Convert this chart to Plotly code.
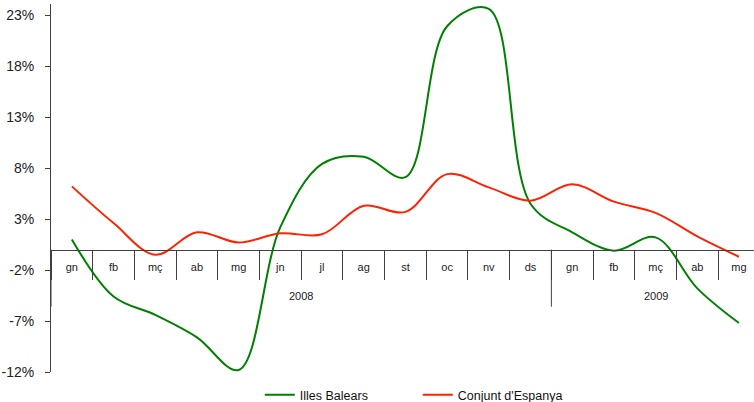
import plotly.graph_objects as go

months = ["gn", "fb", "mç", "ab", "mg", "jn", "jl", "ag", "st", "oc", "nv", "ds",
          "gn", "fb", "mç", "ab", "mg"]
years = ["2008"] * 12 + ["2009"] * 5
balears = [1.0, -4.6, -6.4, -8.6, -11.8, 2.2, 8.4, 9.1, 7.1, 21.9, 23.6, 4.5,
           1.7, -0.1, 1.2, -3.8, -7.2]
espanya = [6.2, 2.6, -0.5, 1.7, 0.7, 1.6, 1.5, 4.3, 3.7, 7.4, 6.1, 4.8,
           6.4, 4.7, 3.6, 1.3, -0.7]
ytick_vals = [-12, -7, -2, 3, 8, 13, 18, 23]
ytick_text = [f"{v}%" for v in ytick_vals]

W, H = 754, 402
ML, MR, MT, MB = 51, 0, 4, 30
YMIN, YMAX = -12, 24.08
H_PLOT = H - MT - MB
PX = (YMAX - YMIN) / H_PLOT  # value units per pixel

idx = list(range(len(months)))
boundaries = [i - 0.5 for i in range(len(months) + 1)]

year_groups = []
for i, y in enumerate(years):
    if not year_groups or year_groups[-1][0] != y:
        year_groups.append([y, i, i])
    else:
        year_groups[-1][2] = i

fig = go.Figure()
fig.add_trace(go.Scatter(x=idx, y=balears, mode="lines", name="Illes Balears",
                         line=dict(color="#008000", width=2, shape="spline", smoothing=1)))
fig.add_trace(go.Scatter(x=idx, y=espanya, mode="lines", name="Conjunt d'Espanya",
                         line=dict(color="#ff2200", width=2, shape="spline", smoothing=1)))

shapes = []
annotations = []
for gi, (yr, a, b) in enumerate(year_groups):
    annotations.append(dict(x=(a + b) / 2, y=-46.5 * PX, xref="x", yref="y", text=yr,
                            showarrow=False, font=dict(size=11, color="#222222"),
                            xanchor="center", yanchor="middle"))
    shapes.append(dict(type="line", xref="x", yref="y", x0=a - 0.5, x1=a - 0.5,
                       y0=0, y1=-57 * PX, line=dict(color="#404040", width=1)))

fig.update_layout(
    width=W, height=H,
    margin=dict(l=ML, r=MR, t=MT, b=MB, autoexpand=False),
    paper_bgcolor="white", plot_bgcolor="white",
    font=dict(family="Liberation Sans, Arial, sans-serif", color="#222222"),
    showlegend=True,
    legend=dict(orientation="h", x=0.297, y=-0.0625, xanchor="left", yanchor="middle",
                font=dict(size=12.5, color="#111111"), entrywidth=113, entrywidthmode="pixels",
                bgcolor="rgba(0,0,0,0)"),
    xaxis=dict(anchor="free", position=(0 - YMIN) / (YMAX - YMIN), automargin=False,
               range=[-0.5, 16.36], showline=True, linecolor="#404040", linewidth=1,
               tickmode="array", tickvals=idx, ticktext=months, ticks="",
               ticklabelstandoff=7, showgrid=False, zeroline=False,
               minor=dict(tickmode="array", tickvals=boundaries, ticks="outside",
                          ticklen=29, tickcolor="#404040", tickwidth=1, showgrid=False),
               tickfont=dict(size=11, color="#222222")),
    yaxis=dict(range=[YMIN, YMAX], tickvals=ytick_vals, ticktext=ytick_text, automargin=False,
               showline=True, linecolor="#404040", linewidth=1, ticks="outside",
               ticklen=5, tickcolor="#404040", showgrid=False, zeroline=False,
               ticklabelstandoff=8,
               tickfont=dict(size=14, color="#222222")),
    shapes=shapes,
    annotations=annotations,
)

fig.write_html("out.html", config={"displayModeBar": False},
               post_script="document.body.style.margin='0';")
